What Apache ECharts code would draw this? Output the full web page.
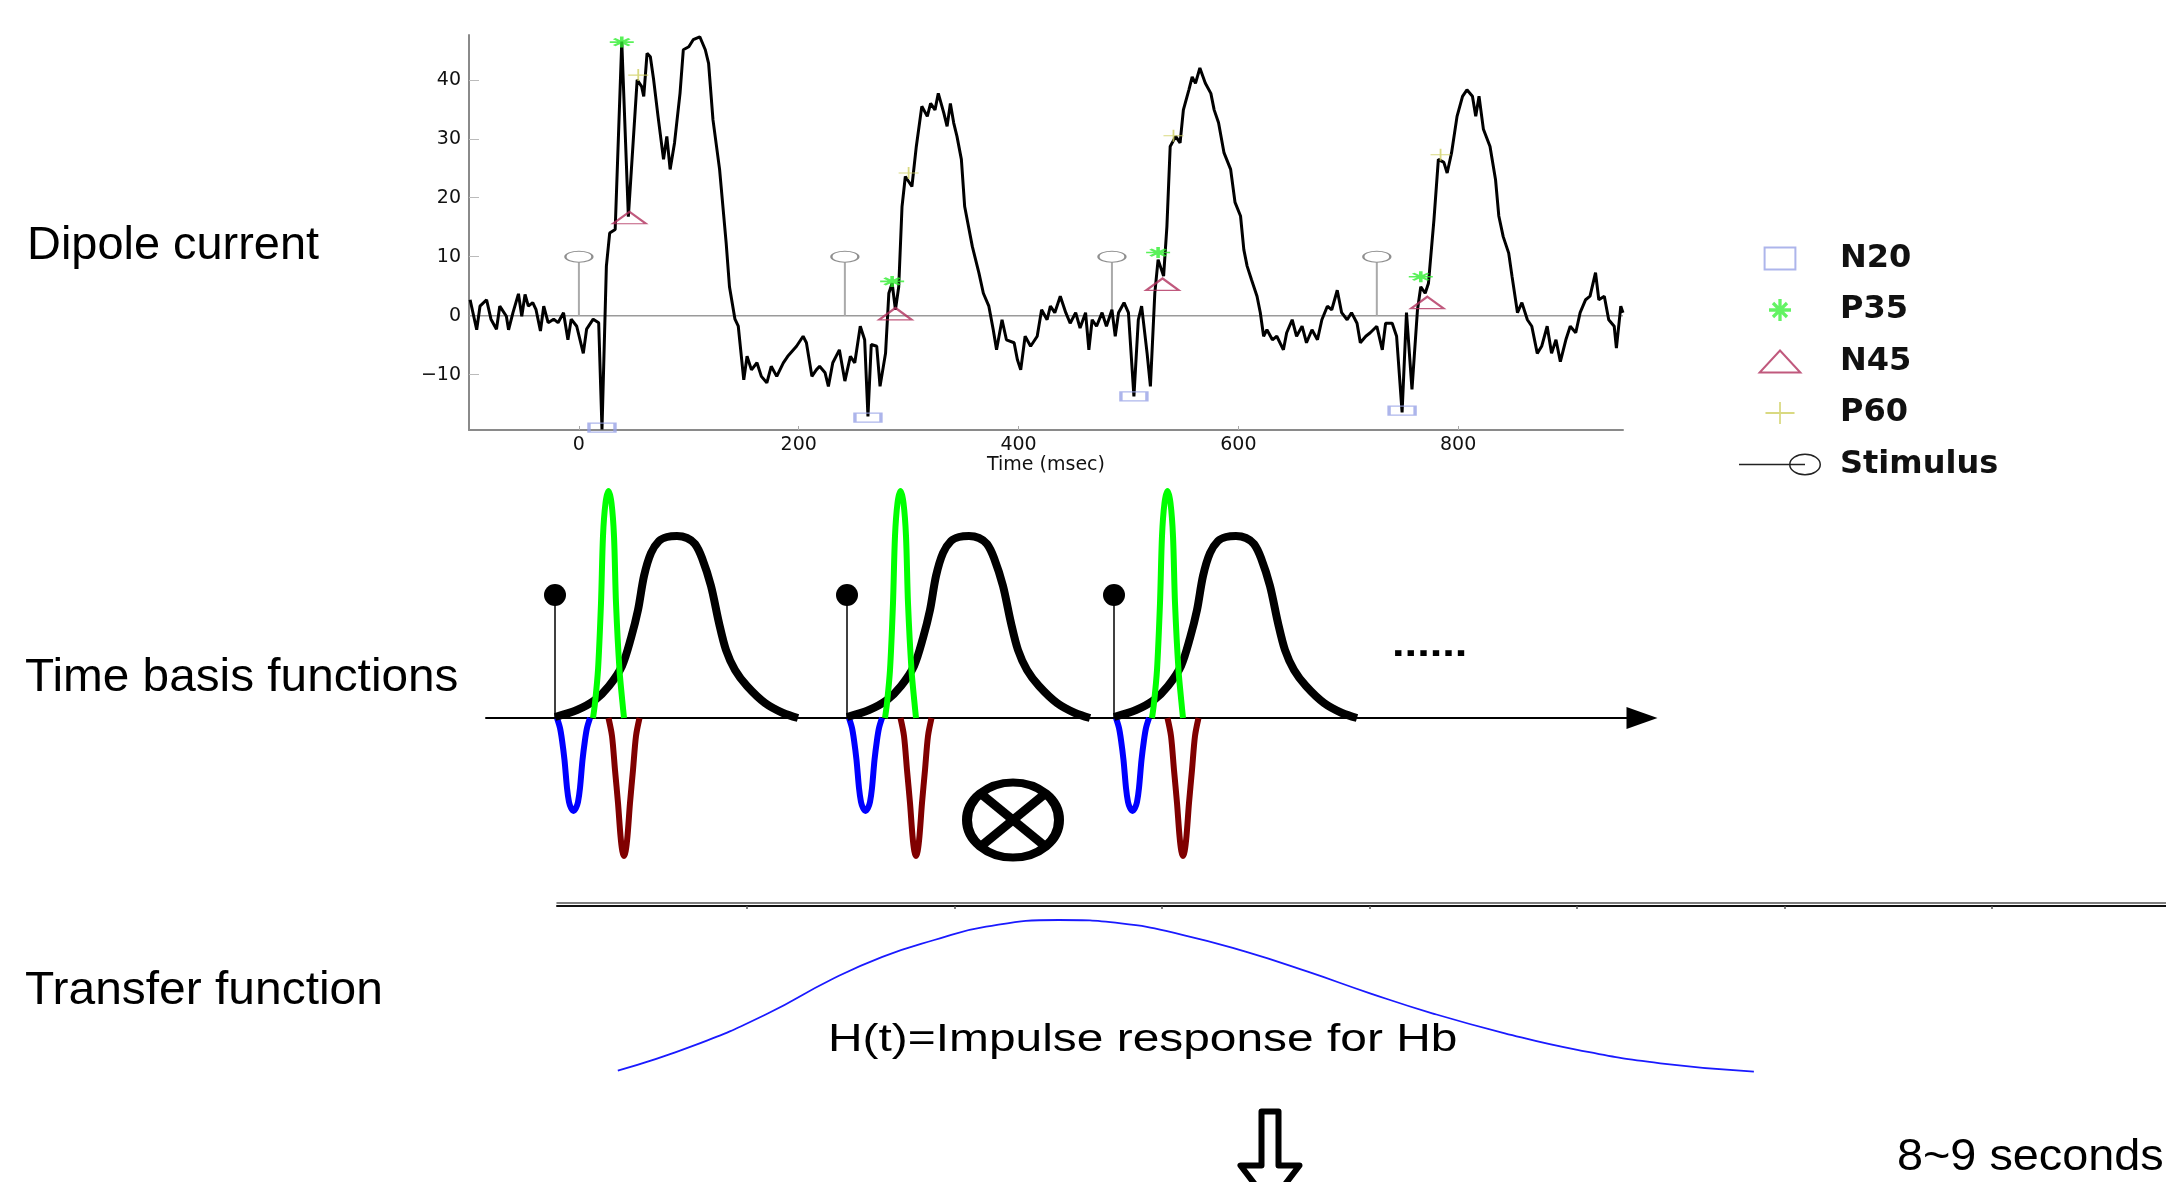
<!DOCTYPE html>
<html>
<head>
<meta charset="utf-8">
<script src="https://cdn.jsdelivr.net/npm/echarts@6.0.0/dist/echarts.min.js"></script>
<style>html,body{margin:0;padding:0;background:#fff}#c{width:2166px;height:1182px}</style>
</head>
<body>
<div id="c"></div>
<script>
// ---------- data: dipole current (msec, value) ----------
const trace = [
[-99,2.7],[-93,-2.4],[-90,1.6],[-84,2.7],[-80,-0.6],[-75,-2.3],[-72,1.6],[-66,-0.1],[-64,-2.4],[-60,0.5],[-55,3.7],[-52,-0.1],[-49,3.6],[-46,1.6],[-42,2.2],[-39,1.0],[-35,-2.6],[-32,1.6],[-28,-1.2],[-23,-0.6],[-19,-1.2],[-14,0.5],[-10,-4.1],[-7,-0.6],[-2,-1.8],[4,-6.4],[7,-2.3],[13,-0.6],[18,-1.2],[21,-19.3],[25,8.4],[28,14.0],[33,14.6],[39,46.5],[45,16.8],[53,40.0],[57,38.9],[59,37.2],[62,44.5],[65,43.9],[68,40.0],[72,33.8],[77,26.5],[80,30.4],[83,24.8],[87,29.3],[92,37.7],[95,45.1],[100,45.6],[104,46.8],[110,47.3],[115,45.1],[118,42.8],[122,33.2],[128,24.8],[134,12.3],[137,4.9],[142,-0.6],[145,-1.8],[150,-10.9],[153,-6.9],[157,-9.2],[162,-8.0],[166,-10.3],[171,-11.4],[175,-8.6],[180,-10.3],[186,-8.0],[190,-6.9],[198,-5.2],[204,-3.5],[207,-4.6],[212,-10.3],[216,-9.2],[219,-8.6],[224,-9.7],[227,-12.0],[231,-8.0],[237,-5.8],[242,-11.1],[247,-6.9],[251,-8.0],[256,-1.8],[260,-4.1],[263,-17.1],
[266,-4.9],[271,-5.2],[274,-12.0],[279,-6.4],[282,3.8],[285,5.5],[288,1.0],[291,4.9],[294,18.5],[297,23.6],[303,21.9],[307,28.7],[312,35.5],[317,33.8],[320,36.0],[324,34.9],[327,37.7],[332,34.4],[335,32.1],[338,36.0],[341,32.7],[344,30.4],[348,26.5],[351,18.5],[358,11.7],[364,7.2],[368,3.8],[373,1.6],[377,-2.4],[380,-5.8],[385,-0.7],[389,-4.1],[396,-4.6],[399,-7.5],[402,-9.2],[406,-3.5],[411,-5.2],[417,-3.5],[421,1.0],[426,-0.7],[429,1.6],[433,0.5],[438,3.3],[443,0.5],[447,-1.3],[452,0.5],[456,-2.1],[461,0.5],[464,-5.8],[467,-0.7],[471,-1.8],[476,0.5],[480,-1.8],[485,1.0],[488,-3.5],[491,0.5],[496,2.2],[500,0.5],[505,-13.7],[509,-0.7],[512,1.6],[517,-6.4],[520,-12.0],[524,3.8],[527,9.5],[532,6.7],[535,15.1],[538,28.7],[543,30.4],[547,29.3],[550,34.9],[555,38.3],[558,40.5],[561,39.4],[565,42.0],[570,39.4],[575,37.7],[578,34.9],[582,32.7],[587,27.6],
[593,24.8],[597,19.2],[602,16.9],[605,11.2],[608,8.4],[612,6.1],[617,3.3],[620,0.5],[623,-3.5],[626,-2.4],[631,-4.1],[635,-3.5],[641,-5.8],[644,-2.9],[649,-0.7],[653,-3.5],[658,-1.8],[662,-4.6],[667,-2.4],[672,-4.1],[676,-0.7],[681,1.6],[685,1.0],[690,4.3],[694,0.5],[699,-0.7],[703,0.5],[708,-1.3],[711,-4.6],[716,-3.5],[720,-2.9],[726,-1.8],[731,-5.8],[734,-1.3],[740,-1.3],[744,-3.5],[749,-16.4],[753,0.5],[758,-12.5],[763,1.0],[766,4.9],[770,3.8],[773,5.5],[778,16.3],[782,26.5],[787,26.0],[790,24.2],[794,27.6],[799,33.8],[804,37.2],[808,38.3],[813,37.2],[816,33.8],[819,37.2],[823,31.6],[829,28.7],[834,23.1],[837,16.9],[841,13.4],[846,10.6],[849,6.7],[854,0.5],[858,2.2],[863,-0.7],[867,-1.8],[872,-6.4],[876,-5.2],[881,-1.8],[885,-6.4],[889,-4.1],[893,-7.8],[898,-4.1],[902,-1.8],[907,-2.9],[911,0.5],[916,2.7],[920,3.3],[925,7.3],[928,2.7],[933,3.3],[937,-0.7],[942,-1.8],[944,-5.5],[948,1.6],[950,0.5]
];
const stimT = [0, 242, 485, 726];
const stimTop = 10;
const n20T = [21, 263, 505, 749];   const n20V = [-19.0, -17.3, -13.7, -16.1];
const p35T = [39, 285, 527, 766];   const p35V = [46.4, 5.8, 10.7, 6.6];
const n45T = [46, 288, 531, 772];   const n45V = [16.6, 0.3, 5.3, 2.2];
const p60T = [54, 300, 541, 784];   const p60V = [40.8, 24.2, 30.5, 27.3];
const yTicks = [-10, 0, 10, 20, 30, 40];
const xTicks = [0, 200, 400, 600, 800];
const legendNames = ['N20', 'P35', 'N45', 'P60', 'Stimulus'];

// ---------- data: time basis functions (offset from onset, amplitude) ----------
const basisOnsets = [69, 361, 628];
const stemHeight = 123;
const n20Shape = [[2,0],[5,-10],[7,-22],[9.5,-42],[12,-70],[14,-84],[16,-90],[18.5,-93],[21,-90],[23,-84],[25,-70],[27.5,-42],[30,-22],[32,-10],[35,0]];
const p35Shape = [[38,0],[40,15],[43,48],[46,115],[48,182],[50.5,215],[53.5,227],[56.5,215],[59,182],[61,115],[64.5,48],[67.5,15],[69,0]];
const n45Shape = [[53.5,0],[57,-18],[60,-52],[63,-85],[65.5,-118],[67.3,-133],[69,-138],[70.7,-133],[72.5,-118],[75,-85],[78,-52],[81,-18],[84.5,0]];
const p60Shape = [[0,1],[22,8],[40,18],[54,32],[67,52],[76,80],[83,108],[89,142],[96,165],[104,177],[112,181],[122,182],[132,180],[140,174],[147,160],[156,132],[164,95],[171,68],[180,48],[192,32],[210,15],[228,5],[243,0]];

// ---------- data: transfer function ----------
const hrf = [[-0.623,0.058],[-0.248,0.219],[0.102,0.417],[0.402,0.625],[0.652,0.77],[0.902,0.875],[1.152,0.958],[1.502,1.0],[1.802,0.979],[2.102,0.906],[2.402,0.802],[2.702,0.677],[3.002,0.542],[3.302,0.417],[3.652,0.292],[4.001,0.188],[4.401,0.104],[4.852,0.052]];
const hrfTicks = [0, 1, 2, 3, 4, 5, 6];

const panelLabels = ['Dipole current', 'Time basis functions', 'Transfer function'];
const hrfLabel = 'H(t)=Impulse response for Hb';
const durationLabel = '8~9 seconds';

// ---------- symbols ----------
const starPath = 'path://M-1.5,-10H1.5V10H-1.5Z M-10,-1.5H10V1.5H-10Z M-5.3,-7.42L7.42,5.3L5.3,7.42L-7.42,-5.3Z M5.3,-7.42L7.42,-5.3L-5.3,7.42L-7.42,5.3Z';
const plusPath = 'path://M-0.9,-10H0.9V10H-0.9Z M-10,-0.9H10V0.9H-10Z';
const plusLegend = 'path://M15.5,0H17.5V25H15.5Z M0,11.5H33V13.5H0Z';
const rectLegend = 'path://M0,0H28V20H0Z';
const triLegend = 'path://M18.5,0L37,20H0Z';
const stimLegend = 'path://M0,10.25H66V11.75H0Z M82,11A16,11,0,1,1,50,11A16,11,0,1,1,82,11Z M80.5,11A14.5,9.5,0,1,0,51.5,11A14.5,9.5,0,1,0,80.5,11Z';

const zip = (t, v) => t.map((x, i) => [x, v[i]]);
const stimData = [];
stimT.forEach(t => { stimData.push([t, 0], [t, stimTop], [t, '-']); });
function placeShape(shape) {
  const out = [];
  basisOnsets.forEach(o => { shape.forEach(p => out.push([o + p[0], p[1]])); out.push([o, '-']); });
  return out;
}
const basisStems = [];
basisOnsets.forEach(o => { basisStems.push([o, 0], [o, stemHeight], [o, '-']); });

const labelFont = 'DejaVu Sans';
const arial = 'Liberation Sans, Arial, sans-serif';

function txt(text, x, y, size, scaleX, weight) {
  return {
    type: 'text', x: x, y: y, scaleX: scaleX || 1, silent: true,
    style: { text: text, fontSize: size, fontFamily: arial, fontWeight: weight || 'normal', fill: '#000',
      align: 'left', verticalAlign: 'middle', textAlign: 'left', textVerticalAlign: 'middle' }
  };
}

const option = {
  animation: false,
  backgroundColor: '#fff',
  grid: [
    { left: 469, top: 35, width: 1154, height: 395 },
    { left: 486, top: 468, width: 1156, height: 400 },
    { left: 557, top: 906, right: 0, height: 174 }
  ],
  xAxis: [
    { type: 'value', gridIndex: 0, min: -100, max: 950,
      axisLine: { onZero: false, lineStyle: { color: '#8a8a8a', width: 2 } },
      axisTick: { show: true, inside: true, length: 4, customValues: xTicks, lineStyle: { color: '#aaa' } },
      axisLabel: { customValues: xTicks, margin: 6, fontFamily: labelFont, fontSize: 19, color: '#111' },
      splitLine: { show: false },
      name: 'Time (msec)', nameLocation: 'middle', nameGap: 25,
      nameTextStyle: { fontFamily: labelFont, fontSize: 19, color: '#111' } },
    { type: 'value', gridIndex: 1, min: 0, max: 1156,
      axisLine: { show: true, onZero: true, symbol: ['none', 'triangle'], symbolSize: [22, 31], lineStyle: { color: '#000', width: 2 } },
      axisTick: { show: false }, axisLabel: { show: false }, splitLine: { show: false } },
    { type: 'value', gridIndex: 2, position: 'top', min: -0.916, max: 6.838,
      axisLine: { onZero: false, lineStyle: { color: '#111', width: 2 } },
      axisTick: { show: true, inside: true, length: 3, customValues: hrfTicks, lineStyle: { color: '#555', width: 1.5 } },
      axisLabel: { show: false }, splitLine: { show: false } },
    { type: 'value', gridIndex: 2, position: 'top', offset: 3.5, min: -0.916, max: 6.838,
      axisLine: { onZero: false, lineStyle: { color: '#555', width: 1.5 } },
      axisTick: { show: false }, axisLabel: { show: false }, splitLine: { show: false } }
  ],
  yAxis: [
    { type: 'value', gridIndex: 0, min: -19.4, max: 47.6,
      axisLine: { show: true, onZero: false, lineStyle: { color: '#8a8a8a', width: 2 } },
      axisTick: { show: true, inside: true, length: 10, customValues: yTicks, lineStyle: { color: '#bbb' } },
      axisLabel: { customValues: yTicks, margin: 8, fontFamily: labelFont, fontSize: 19, color: '#111',
        formatter: v => (v < 0 ? '\u2212' + (-v) : String(v)) },
      splitLine: { show: false } },
    { type: 'value', gridIndex: 1, min: -150, max: 250, show: false },
    { type: 'value', gridIndex: 2, min: 0, max: 1.0875, show: false }
  ],
  legend: {
    orient: 'vertical', left: 1734, top: 237, itemWidth: 110, itemHeight: 22, itemGap: 18.5,
    selectedMode: false,
    textStyle: { fontFamily: labelFont, fontSize: 32, fontWeight: 'bold', color: '#111', lineHeight: 33 },
    data: [
      { name: legendNames[0], icon: rectLegend, itemStyle: { color: 'rgba(255,255,255,0)', borderColor: '#98a2e6', borderWidth: 2 } },
      { name: legendNames[1], icon: starPath, itemStyle: { color: '#3cf03c', borderWidth: 0 } },
      { name: legendNames[2], icon: triLegend, itemStyle: { color: 'rgba(255,255,255,0)', borderColor: '#b0305c', borderWidth: 2 } },
      { name: legendNames[3], icon: plusLegend, itemStyle: { color: '#cfcf62', borderWidth: 0 } },
      { name: legendNames[4], icon: stimLegend, itemStyle: { color: '#222', borderWidth: 0 } }
    ]
  },
  series: [
    { name: 'zero', type: 'line', xAxisIndex: 0, yAxisIndex: 0, data: [[-100, 0], [950, 0]],
      showSymbol: false, lineStyle: { color: '#9a9a9a', width: 1.5 }, z: 1, silent: true, emphasis: { disabled: true } },
    { name: legendNames[4], type: 'line', xAxisIndex: 0, yAxisIndex: 0, data: stimData,
      symbol: 'circle', symbolSize: v => (v[1] === stimTop ? [27, 11] : 0), showAllSymbol: true,
      itemStyle: { color: '#fff', borderColor: '#8f8f8f', borderWidth: 1.5 },
      lineStyle: { color: '#aaa', width: 2 }, z: 2, emphasis: { disabled: true } },
    { name: 'trace', type: 'line', xAxisIndex: 0, yAxisIndex: 0, data: trace,
      showSymbol: false, lineStyle: { color: '#000', width: 3 }, z: 3, emphasis: { disabled: true } },
    { name: legendNames[0], type: 'scatter', xAxisIndex: 0, yAxisIndex: 0, data: zip(n20T, n20V),
      symbol: 'rect', symbolSize: [26, 9], z: 4,
      itemStyle: { color: 'rgba(255,255,255,0)', borderColor: '#98a2e6', borderWidth: 2 }, emphasis: { disabled: true } },
    { name: legendNames[1], type: 'scatter', xAxisIndex: 0, yAxisIndex: 0, data: zip(p35T, p35V),
      symbol: starPath, symbolSize: [24, 11], z: 4, itemStyle: { color: '#30ee30' }, emphasis: { disabled: true } },
    { name: legendNames[2], type: 'scatter', xAxisIndex: 0, yAxisIndex: 0, data: zip(n45T, n45V),
      symbol: 'triangle', symbolSize: [33, 12], z: 4,
      itemStyle: { color: 'rgba(255,255,255,0)', borderColor: '#b0305c', borderWidth: 2 }, emphasis: { disabled: true } },
    { name: legendNames[3], type: 'scatter', xAxisIndex: 0, yAxisIndex: 0, data: zip(p60T, p60V),
      symbol: plusPath, symbolSize: [20, 12], z: 4, itemStyle: { color: '#cfcf62' }, emphasis: { disabled: true } },

    { name: 'N20 basis', type: 'line', xAxisIndex: 1, yAxisIndex: 1, data: placeShape(n20Shape), smooth: 0.3,
      showSymbol: false, lineStyle: { color: '#0000ff', width: 6 }, z: 2, emphasis: { disabled: true } },
    { name: 'N45 basis', type: 'line', xAxisIndex: 1, yAxisIndex: 1, data: placeShape(n45Shape), smooth: 0.3,
      showSymbol: false, lineStyle: { color: '#800000', width: 6 }, z: 2, emphasis: { disabled: true } },
    { name: 'P60 basis', type: 'line', xAxisIndex: 1, yAxisIndex: 1, data: placeShape(p60Shape), smooth: 0.3,
      showSymbol: false, lineStyle: { color: '#000', width: 8 }, z: 3, emphasis: { disabled: true } },
    { name: 'P35 basis', type: 'line', xAxisIndex: 1, yAxisIndex: 1, data: placeShape(p35Shape), smooth: 0.3,
      showSymbol: false, lineStyle: { color: '#00ff00', width: 6 }, z: 4, emphasis: { disabled: true } },
    { name: 'stimulus basis', type: 'line', xAxisIndex: 1, yAxisIndex: 1, data: basisStems,
      symbol: 'circle', symbolSize: v => (v[1] === stemHeight ? 22 : 0), showAllSymbol: true,
      itemStyle: { color: '#000' }, lineStyle: { color: '#000', width: 1.5 }, z: 5, emphasis: { disabled: true } },

    { name: 'HRF', type: 'line', xAxisIndex: 2, yAxisIndex: 2, data: hrf, smooth: true,
      showSymbol: false, lineStyle: { color: '#1a1aff', width: 1.8 }, z: 3, emphasis: { disabled: true } }
  ],
  graphic: [
    txt(panelLabels[0], 27, 246, 46, 1.02),
    txt(panelLabels[1], 25, 678, 47, 1.016),
    txt(panelLabels[2], 25, 991, 47, 1.02),
    txt(hrfLabel, 828, 1041, 38, 1.26),
    txt(durationLabel, 1897, 1158, 45, 1.04),
    txt('......', 1392, 646, 38, 1.19, 'bold'),
    { type: 'group', x: 1013, y: 820, scaleY: 0.815, silent: true, children: [
      { type: 'circle', shape: { cx: 0, cy: 0, r: 46 }, style: { fill: 'none', stroke: '#000', lineWidth: 10 } },
      { type: 'line', shape: { x1: -31, y1: -31, x2: 31, y2: 31 }, style: { stroke: '#000', lineWidth: 10 } },
      { type: 'line', shape: { x1: 31, y1: -31, x2: -31, y2: 31 }, style: { stroke: '#000', lineWidth: 10 } }
    ] },
    { type: 'polygon', silent: true,
      shape: { points: [[1261.5,1111.5],[1278.5,1111.5],[1278.5,1165.5],[1299.5,1165.5],[1270,1204],[1240.5,1165.5],[1261.5,1165.5]] },
      style: { fill: '#fff', stroke: '#000', lineWidth: 6, lineJoin: 'round' } }
  ]
};

const chart = echarts.init(document.getElementById('c'), null, { renderer: 'canvas' });
chart.setOption(option);
</script>
</body>
</html>
